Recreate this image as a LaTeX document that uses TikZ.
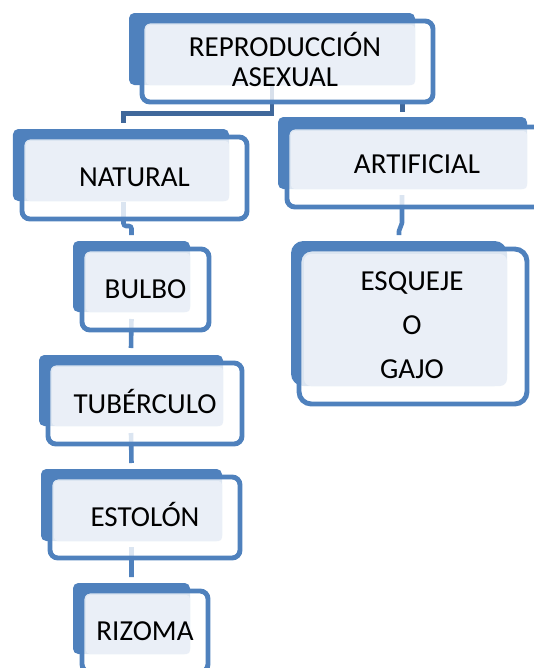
\documentclass[tikz,border=0pt]{standalone}
\usepackage{fontspec}
\setmainfont{Carlito}
\usepackage{xcolor}
\usepackage{tikz}
\usetikzlibrary{calc,positioning,backgrounds}

\definecolor{boxblue}{RGB}{79,129,189}
\definecolor{linkblue}{RGB}{64,104,155}
\definecolor{panelblue}{RGB}{234,239,247}

\begin{document}
\begin{tikzpicture}[
  backbox/.style={fill=boxblue, rounded corners=3pt, inner sep=0, outer sep=0},
  framebox/.style={draw=boxblue, line width=2.8pt, fill=white, fill opacity=0.8, rounded corners=4.5pt, inner sep=0, outer sep=0},
  panel/.style={fill=panelblue, rounded corners=2pt},
  boxtext/.style={font=\fontsize{16.5}{25}\selectfont, inner sep=0, anchor=base},
  link/.style={draw=boxblue, line width=2.6pt},
  toplink/.style={draw=linkblue, line width=2.6pt}
]
\useasboundingbox (0,0) rectangle (10.68,-13.36);

% top
\coordinate(O1) at (2.58,-0.26);
\node[below right=0cm of O1, backbox, minimum width=5.72cm, minimum height=1.44cm](reproback) {};
\node[below right=0.16cm and 0.26cm of reproback.north west, framebox, minimum width=5.82cm, minimum height=1.62cm](repro) {};
\fill[panel] ([shift={(0.08,-0.08)}]repro.north west) rectangle (reproback.south east);
\node[boxtext, font=\fontsize{16.5}{17.6}\selectfont, align=center, anchor=center] (reprotext) at ([xshift=-0.05cm,yshift=0.04cm]repro.center) {REPRODUCCIÓN\\ASEXUAL};

% natural
\coordinate(O1) at (0.26,-2.58);
\node[below right=0cm of O1, backbox, minimum width=4.32cm, minimum height=1.44cm](naturalback) {};
\node[below right=0.16cm and 0.18cm of naturalback.north west, framebox, minimum width=4.5cm, minimum height=1.64cm](natural) {};
\fill[panel] ([shift={(0.08,-0.08)}]natural.north west) rectangle (naturalback.south east);
\node[boxtext] (naturaltext) at ([yshift=-0.16cm]natural.center) {NATURAL};

% artificial
\coordinate(O1) at (5.56,-2.34);
\node[below right=0cm of O1, backbox, minimum width=4.98cm, minimum height=1.44cm](artificialback) {};
\node[below right=0.2cm and 0.18cm of artificialback.north west, framebox, minimum width=5.2cm, minimum height=1.6cm](artificial) {};
\fill[panel] ([shift={(0.08,-0.08)}]artificial.north west) rectangle (artificialback.south east);
\node[boxtext] (artificialtext) at ([yshift=-0.12cm]artificial.center) {ARTIFICIAL};

% esqueje
\coordinate(O1) at (5.82,-4.82);
\node[below right=0cm of O1, backbox, rounded corners=7pt, minimum width=4.32cm, minimum height=2.9cm](esquejeback) {};
\node[below right=0.16cm and 0.16cm of esquejeback.north west, framebox, rounded corners=7pt, minimum width=4.56cm, minimum height=3.1cm](esqueje) {};
\fill[panel, rounded corners=4pt] ([shift={(0.1,-0.1)}]esqueje.north west) rectangle (esquejeback.south east);
\node[boxtext, align=center, anchor=center] (esquejetext) at ([xshift=-0.02cm,yshift=0.02cm]esqueje.center) {ESQUEJE\\O\\GAJO};

% bulbo
\coordinate(O1) at (1.46,-4.82);
\node[below right=0cm of O1, backbox, minimum width=2.34cm, minimum height=1.42cm](bulboback) {};
\node[below right=0.16cm and 0.18cm of bulboback.north west, framebox, minimum width=2.54cm, minimum height=1.62cm](bulbo) {};
\fill[panel] ([shift={(0.08,-0.08)}]bulbo.north west) rectangle (bulboback.south east);
\node[boxtext] (bulbotext) at ([yshift=-0.17cm]bulbo.center) {BULBO};

% tuberculo
\coordinate(O1) at (0.78,-7.1);
\node[below right=0cm of O1, backbox, minimum width=3.68cm, minimum height=1.42cm](tuberculoback) {};
\node[below right=0.16cm and 0.18cm of tuberculoback.north west, framebox, minimum width=3.88cm, minimum height=1.62cm](tuberculo) {};
\fill[panel] ([shift={(0.08,-0.08)}]tuberculo.north west) rectangle (tuberculoback.south east);
\node[boxtext] (tuberculotext) at ([yshift=-0.19cm]tuberculo.center) {TUBÉRCULO};

% estolon
\coordinate(O1) at (0.82,-9.38);
\node[below right=0cm of O1, backbox, minimum width=3.62cm, minimum height=1.44cm](estolonback) {};
\node[below right=0.16cm and 0.18cm of estolonback.north west, framebox, minimum width=3.8cm, minimum height=1.62cm](estolon) {};
\fill[panel] ([shift={(0.08,-0.08)}]estolon.north west) rectangle (estolonback.south east);
\node[boxtext] (estolontext) at ([yshift=-0.17cm]estolon.center) {ESTOLÓN};

% rizoma
\coordinate(O1) at (1.46,-11.66);
\node[below right=0cm of O1, backbox, minimum width=2.34cm, minimum height=1.42cm](rizomaback) {};
\node[below right=0.16cm and 0.18cm of rizomaback.north west, framebox, minimum width=2.52cm, minimum height=1.62cm](rizoma) {};
\fill[panel] ([shift={(0.08,-0.08)}]rizoma.north west) rectangle (rizomaback.south east);
\node[boxtext] (rizomatext) at ([yshift=-0.17cm]rizoma.center) {RIZOMA};

% links
\begin{scope}[on background layer]
\draw[toplink] ([xshift=-0.31cm,yshift=0.32cm]repro.south) -- ++(0,-0.55cm) -| ([xshift=0.05cm,yshift=0.12cm]naturalback.north);
\draw[toplink] (artificialback.north |- repro.south) -- ([yshift=0.11cm]artificialback.north);
\draw[link, rounded corners=1.5pt] ([xshift=-0.22cm,yshift=0.34cm]natural.south) -- ++(0,-0.48cm) -| ([yshift=0.12cm]bulboback.north);
\draw[link, line join=round] ([xshift=-0.3cm,yshift=0.24cm]artificial.south) -- ++(0,-0.56cm) -- ([yshift=0.2cm]esquejeback.north) -- ([yshift=0.12cm]esquejeback.north);
\draw[link] ([yshift=-0.14cm]bulboback.south) -- ([yshift=0.14cm]tuberculoback.north);
\draw[link] ([yshift=-0.14cm]tuberculoback.south) -- ([yshift=0.12cm]estolonback.north);
\draw[link] ([yshift=-0.12cm]estolonback.south) -- ([yshift=0.12cm]rizomaback.north);
\end{scope}
\end{tikzpicture}
\end{document}
